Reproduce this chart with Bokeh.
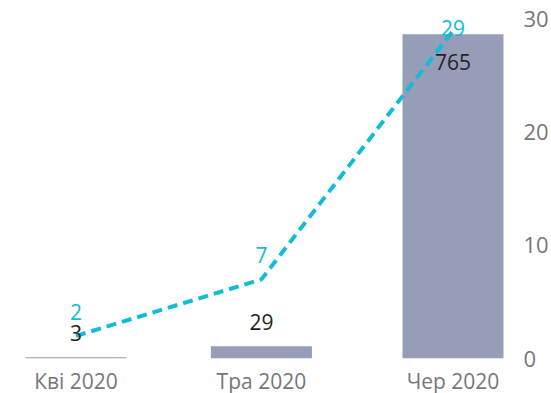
import datetime as dt
from bokeh.plotting import figure
from bokeh.models import Range1d, FixedTicker, ColumnDataSource
from bokeh.embed import file_html
from bokeh.resources import INLINE
from bokeh.core.properties import value

# ---- data ----
months = ["2020-04-01", "2020-05-01", "2020-06-01"]
month_labels = ["Кві 2020", "Тра 2020", "Чер 2020"]
bar_values = [3, 29, 765]
line_values = [2, 7, 29]

# ---- styling / layout constants ----
BAR_COLOR = "#959DB8"
LINE_COLOR = "#12BCD6"
TEXT_DARK = "#252423"
AXIS_GRAY = "#777777"
FONT = "Open Sans"

base = dt.date(2020, 1, 1)
xs = [(dt.date.fromisoformat(m) - base).days for m in months]

frame_w = 507
frame_h = 350
px_per_day = 6.18
first_offset_px = 67.5
x_start = xs[0] - first_offset_px / px_per_day
x_end = x_start + frame_w / px_per_day

right_max = 30.97          # line axis (right)
bars_max = 800 * right_max / 30   # hidden bar axis aligned 800 <-> 30
px_per_unit = frame_h / right_max
px_per_bar_unit = frame_h / bars_max

# label offsets (screen pixels)
line_off = []
for v in line_values:
    from_top = (right_max - v) * px_per_unit
    line_off.append(-min(24, from_top - 19))
bar_off = []
for v in bar_values:
    from_top = (bars_max - v) * px_per_bar_unit
    bar_off.append(-24 if from_top > 40 else 28)

src = ColumnDataSource(dict(
    x=xs,
    bars=bar_values,
    line=line_values,
    bar_lbl=[str(v) for v in bar_values],
    line_lbl=[str(v) for v in line_values],
    bar_off=bar_off,
    line_off=line_off,
))

p = figure(frame_width=frame_w, frame_height=frame_h,
           x_range=Range1d(x_start, x_end), y_range=Range1d(0, right_max),
           y_axis_location="right", toolbar_location=None, output_backend="svg",
           min_border_left=8, min_border_top=8, min_border_bottom=0, min_border_right=0)
p.extra_y_ranges = {"bars": Range1d(0, bars_max)}

p.vbar(x="x", top="bars", width=101 / px_per_day, source=src, y_range_name="bars",
       fill_color=BAR_COLOR, line_color=None)
p.line(x="x", y="line", source=src, line_color=LINE_COLOR, line_width=4,
       line_dash="10 6")

p.text(x="x", y="bars", text="bar_lbl", y_offset="bar_off", source=src, y_range_name="bars",
       text_align="center", text_baseline="middle", text_color=TEXT_DARK,
       text_font=value(FONT), text_font_size="21px")
p.text(x="x", y="line", text="line_lbl", y_offset="line_off", source=src,
       text_align="center", text_baseline="middle", text_color=LINE_COLOR,
       text_font=value(FONT), text_font_size="21px")

p.xgrid.visible = False
p.ygrid.visible = False
p.outline_line_color = None
p.background_fill_color = "white"
p.border_fill_color = "white"

xa = p.xaxis[0]
xa.ticker = FixedTicker(ticks=xs)
xa.major_label_overrides = {x: lbl for x, lbl in zip(xs, month_labels)}
xa.axis_line_color = None
xa.major_tick_line_color = None
xa.minor_tick_line_color = None
xa.major_tick_out = 0
xa.major_label_standoff = 8
xa.major_label_text_font = FONT
xa.major_label_text_font_size = "21px"
xa.major_label_text_color = AXIS_GRAY

ya = p.yaxis[0]
ya.ticker = FixedTicker(ticks=[0, 10, 20, 30])
ya.axis_line_color = None
ya.major_tick_line_color = None
ya.minor_tick_line_color = None
ya.major_tick_out = 0
ya.major_label_standoff = 8
ya.major_label_text_font = FONT
ya.major_label_text_font_size = "22px"
ya.major_label_text_color = AXIS_GRAY

open("out.html", "w").write(file_html(p, INLINE))
